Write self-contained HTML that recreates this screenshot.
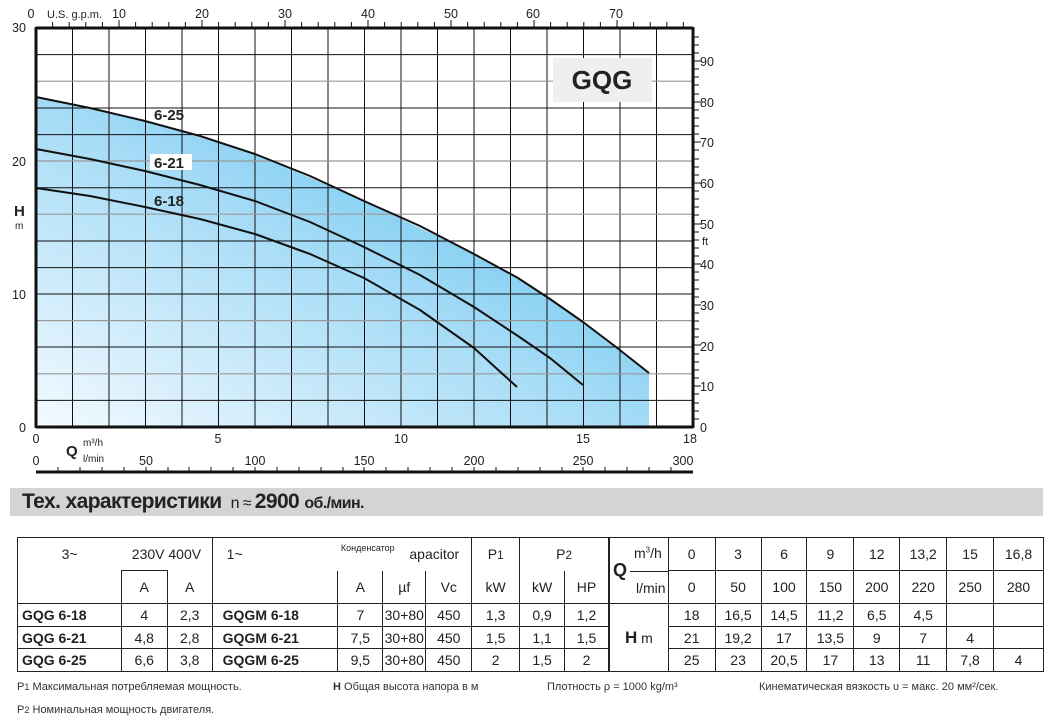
<!DOCTYPE html>
<html><head><meta charset="utf-8"><style>
body{margin:0;background:#fff;width:1055px;height:723px;overflow:hidden;font-family:"Liberation Sans",sans-serif;position:relative}
.bar{position:absolute;left:10px;top:488px;width:1033px;height:28px;background:#d4d4d4}
.bar span{position:absolute;left:12px;top:2px;font-size:21px;color:#222;letter-spacing:-0.6px}
table{position:absolute;border-collapse:collapse;font-size:14px;color:#222}
td{padding:0;text-align:center;vertical-align:middle}
.fn{position:absolute;font-size:11px;color:#333}
</style></head><body>
<svg width="1055" height="485" style="position:absolute;left:0;top:0" font-family="Liberation Sans, sans-serif">
<defs><linearGradient id="g" x1="0" y1="1" x2="1" y2="0">
<stop offset="0" stop-color="#f3faff"/><stop offset="0.5" stop-color="#a4dbf6"/><stop offset="1" stop-color="#3fb6ec"/></linearGradient></defs>
<polygon fill="url(#g)" points="36,97 145,121 255,154 364,201 474,254 518,278 583,322 649,373 649,427 36,427"/>
<g stroke="#111" stroke-width="1">
<line x1="72.5" y1="28" x2="72.5" y2="427"/><line x1="109" y1="28" x2="109" y2="427"/><line x1="145.5" y1="28" x2="145.5" y2="427"/><line x1="182" y1="28" x2="182" y2="427"/><line x1="218.5" y1="28" x2="218.5" y2="427"/><line x1="255" y1="28" x2="255" y2="427"/><line x1="291.5" y1="28" x2="291.5" y2="427"/><line x1="328" y1="28" x2="328" y2="427"/><line x1="364.5" y1="28" x2="364.5" y2="427"/><line x1="401" y1="28" x2="401" y2="427"/><line x1="437.5" y1="28" x2="437.5" y2="427"/><line x1="474" y1="28" x2="474" y2="427"/><line x1="510.5" y1="28" x2="510.5" y2="427"/><line x1="547" y1="28" x2="547" y2="427"/><line x1="583.5" y1="28" x2="583.5" y2="427"/><line x1="620" y1="28" x2="620" y2="427"/><line x1="656.5" y1="28" x2="656.5" y2="427"/>
<line x1="36" y1="54.6" x2="693" y2="54.6"/><line x1="36" y1="108" x2="693" y2="108"/><line x1="36" y1="134.6" x2="693" y2="134.6"/><line x1="36" y1="187.8" x2="693" y2="187.8"/><line x1="36" y1="241" x2="693" y2="241"/><line x1="36" y1="267.6" x2="693" y2="267.6"/><line x1="36" y1="294" x2="693" y2="294"/><line x1="36" y1="347" x2="693" y2="347"/><line x1="36" y1="400.4" x2="693" y2="400.4"/>
</g>
<g stroke="#999" stroke-width="1.2">
<line x1="36" y1="81.2" x2="693" y2="81.2"/><line x1="36" y1="161" x2="693" y2="161"/><line x1="36" y1="214.2" x2="693" y2="214.2"/><line x1="36" y1="320.6" x2="693" y2="320.6"/><line x1="36" y1="373.8" x2="693" y2="373.8"/>
</g>
<rect x="553" y="58" width="99" height="44" fill="#efefef"/>
<text x="602" y="89" font-size="26" font-weight="bold" text-anchor="middle" fill="#222">GQG</text>
<g fill="none" stroke="#111" stroke-width="2" stroke-linejoin="round">
<polyline points="36,97 90,108 145,121 200,136 255,154 310,176 364,201 420,226 474,254 518,278 550,299 583,322 616,347 649,373"/>
<polyline points="36,149 90,159 145,171 200,185 255,201 310,222 364,247 420,275 474,307 518,336 550,358 583,385"/>
<polyline points="36,188 90,196 145,207 200,219 255,234 310,254 364,278 420,310 474,348 517,387"/>
</g>
<g font-size="15" font-weight="bold" fill="#222">
<text x="154" y="120">6-25</text>
<rect x="150" y="154" width="42" height="16" fill="#fff"/><text x="154" y="168">6-21</text>
<text x="154" y="206">6-18</text>
</g>
<g stroke="#111" fill="none">
<line x1="36" y1="28" x2="693" y2="28" stroke-width="3"/>
<line x1="36" y1="427" x2="693" y2="427" stroke-width="3"/>
<line x1="36" y1="27" x2="36" y2="428" stroke-width="3"/>
<line x1="693" y1="27" x2="693" y2="428" stroke-width="3"/>
<line x1="36" y1="472" x2="693" y2="472" stroke-width="3"/>
</g>
<g font-size="12.5" fill="#222">
<text x="31" y="18" text-anchor="middle">0</text><text x="47" y="18" font-size="11">U.S. g.p.m.</text>
<text x="119" y="18" text-anchor="middle">10</text><text x="202" y="18" text-anchor="middle">20</text><text x="285" y="18" text-anchor="middle">30</text><text x="368" y="18" text-anchor="middle">40</text><text x="451" y="18" text-anchor="middle">50</text><text x="533" y="18" text-anchor="middle">60</text><text x="616" y="18" text-anchor="middle">70</text>
<text x="12" y="32">30</text><text x="12" y="166">20</text><text x="12" y="299">10</text><text x="19" y="432">0</text>
<text x="14" y="216" font-size="15" font-weight="bold">H</text><text x="15" y="229" font-size="10">m</text>
<text x="700" y="432">0</text><text x="700" y="391">10</text><text x="700" y="351">20</text><text x="700" y="310">30</text><text x="700" y="269">40</text><text x="700" y="229">50</text><text x="700" y="188">60</text><text x="700" y="147">70</text><text x="700" y="107">80</text><text x="700" y="66">90</text>
<text x="702" y="245" font-size="11">ft</text>
<text x="36" y="443" text-anchor="middle">0</text><text x="218" y="443" text-anchor="middle">5</text><text x="401" y="443" text-anchor="middle">10</text><text x="583" y="443" text-anchor="middle">15</text><text x="690" y="443" text-anchor="middle">18</text>
<text x="66" y="456" font-size="15" font-weight="bold">Q</text><text x="83" y="446" font-size="10">m³/h</text><text x="83" y="462" font-size="10">l/min</text>
<text x="36" y="465" text-anchor="middle">0</text><text x="146" y="465" text-anchor="middle">50</text><text x="255" y="465" text-anchor="middle">100</text><text x="364" y="465" text-anchor="middle">150</text><text x="474" y="465" text-anchor="middle">200</text><text x="583" y="465" text-anchor="middle">250</text><text x="683" y="465" text-anchor="middle">300</text>
</g>
<path stroke="#111" stroke-width="1" d="M52.6 22v6M69.2 22v6M85.8 22v6M102.4 22v6M119 20v8M135.6 22v6M152.2 22v6M168.8 22v6M185.4 22v6M202 20v8M218.6 22v6M235.2 22v6M251.8 22v6M268.4 22v6M285 20v8M301.6 22v6M318.2 22v6M334.8 22v6M351.4 22v6M368 20v8M384.6 22v6M401.2 22v6M417.8 22v6M434.4 22v6M451 20v8M467.6 22v6M484.2 22v6M500.8 22v6M517.4 22v6M534 20v8M550.6 22v6M567.2 22v6M583.8 22v6M600.4 22v6M617 20v8M633.6 22v6M650.2 22v6M666.8 22v6M683.4 22v6
M693 419h6M693 411h6M693 403h6M693 394h6M693 386h8M693 378h6M693 370h6M693 362h6M693 354h6M693 345h8M693 337h6M693 329h6M693 321h6M693 313h6M693 305h8M693 297h6M693 289h6M693 280h6M693 272h6M693 264h8M693 256h6M693 248h6M693 240h6M693 232h6M693 224h8M693 215h6M693 207h6M693 199h6M693 191h6M693 183h8M693 175h6M693 167h6M693 159h6M693 150h6M693 142h8M693 134h6M693 126h6M693 118h6M693 110h6M693 102h8M693 94h6M693 85h6M693 77h6M693 69h6M693 61h8M693 53h6M693 45h6M693 37h6
M58 467v5M80 467v5M102 467v5M124 467v5M146 467v5M168 467v5M189 467v5M211 467v5M233 467v5M255 467v5M277 467v5M299 467v5M321 467v5M343 467v5M364 467v5M386 467v5M408 467v5M430 467v5M452 467v5M474 467v5M496 467v5M518 467v5M540 467v5M562 467v5M583 467v5M605 467v5M627 467v5M649 467v5M671 467v5"/>
</svg>
<div class="bar"><span><b>Тех. характеристики</b> <span style="position:static;font-size:16px">&nbsp;n ≈ </span><b>2900</b> <span style="position:static;font-size:16px;font-weight:bold">об./мин.</span></span></div>

<table style="left:17px;top:537px;width:592px;border:1px solid #222">
<colgroup><col style="width:104px"><col style="width:46px"><col style="width:45px"><col style="width:126px"><col style="width:45px"><col style="width:43px"><col style="width:46px"><col style="width:48px"><col style="width:45px"><col style="width:44px"></colgroup>
<tr style="height:33px"><td>3~</td><td colspan="2" style="border-right:1px solid #222">230V&nbsp;400V</td><td style="text-align:left;padding-left:14px">1~</td><td colspan="3" style="position:relative;text-align:right;padding-right:12px"><span style="position:absolute;left:3px;top:5px;font-size:9px">Конденсатор</span>apacitor</td><td style="border-left:1px solid #222;border-right:1px solid #222">P<small>1</small></td><td colspan="2">P<small>2</small></td></tr>
<tr style="height:33px;border-bottom:1px solid #222"><td></td><td style="border:1px solid #222;border-bottom:0">A</td><td>A</td><td style="border-left:1px solid #222"></td><td style="border-left:1px solid #222">A</td><td style="border-left:1px solid #222">µf</td><td style="border-left:1px solid #222">Vc</td><td style="border-left:1px solid #222;border-right:1px solid #222">kW</td><td style="border-right:1px solid #222">kW</td><td>HP</td></tr>
<tr style="height:23px;border-bottom:1px solid #222"><td style="text-align:left;padding-left:4px;font-weight:bold">GQG 6-18</td><td style="border:1px solid #222">4</td><td style="border:1px solid #222">2,3</td><td style="text-align:left;padding-left:10px;font-weight:bold">GQGM 6-18</td><td style="border:1px solid #222">7</td><td style="border:1px solid #222">30+80</td><td style="border:1px solid #222">450</td><td style="border:1px solid #222">1,3</td><td style="border:1px solid #222">0,9</td><td>1,2</td></tr>
<tr style="height:22px;border-bottom:1px solid #222"><td style="text-align:left;padding-left:4px;font-weight:bold">GQG 6-21</td><td style="border:1px solid #222">4,8</td><td style="border:1px solid #222">2,8</td><td style="text-align:left;padding-left:10px;font-weight:bold">GQGM 6-21</td><td style="border:1px solid #222">7,5</td><td style="border:1px solid #222">30+80</td><td style="border:1px solid #222">450</td><td style="border:1px solid #222">1,5</td><td style="border:1px solid #222">1,1</td><td>1,5</td></tr>
<tr style="height:23px"><td style="text-align:left;padding-left:4px;font-weight:bold">GQG 6-25</td><td style="border:1px solid #222">6,6</td><td style="border:1px solid #222">3,8</td><td style="text-align:left;padding-left:10px;font-weight:bold">GQGM 6-25</td><td style="border:1px solid #222">9,5</td><td style="border:1px solid #222">30+80</td><td style="border:1px solid #222">450</td><td style="border:1px solid #222">2</td><td style="border:1px solid #222">1,5</td><td>2</td></tr>
</table>

<table style="left:609px;top:537px;width:435px;border:1px solid #222">
<colgroup><col style="width:59px"><col style="width:47px"><col style="width:46px"><col style="width:46px"><col style="width:47px"><col style="width:46px"><col style="width:47px"><col style="width:47px"><col style="width:50px"></colgroup>
<tr style="height:33px"><td rowspan="2" style="position:relative;border-right:1px solid #222"><b style="position:absolute;left:3px;top:22px;font-size:18px">Q</b><span style="position:absolute;left:24px;top:7px">m<sup style="font-size:8px">3</sup>/h</span><span style="position:absolute;left:20px;top:33px;width:38px;border-top:1px solid #222"></span><span style="position:absolute;left:26px;top:42px">l/min</span></td><td style="border:1px solid #222">0</td><td style="border:1px solid #222">3</td><td style="border:1px solid #222">6</td><td style="border:1px solid #222">9</td><td style="border:1px solid #222">12</td><td style="border:1px solid #222">13,2</td><td style="border:1px solid #222">15</td><td style="border:1px solid #222">16,8</td></tr>
<tr style="height:33px"><td style="border:1px solid #222">0</td><td style="border:1px solid #222">50</td><td style="border:1px solid #222">100</td><td style="border:1px solid #222">150</td><td style="border:1px solid #222">200</td><td style="border:1px solid #222">220</td><td style="border:1px solid #222">250</td><td style="border:1px solid #222">280</td></tr>
<tr style="height:23px"><td rowspan="3" style="border:1px solid #222"><b style="font-size:17px">H</b> m</td><td style="border:1px solid #222">18</td><td style="border:1px solid #222">16,5</td><td style="border:1px solid #222">14,5</td><td style="border:1px solid #222">11,2</td><td style="border:1px solid #222">6,5</td><td style="border:1px solid #222">4,5</td><td style="border:1px solid #222"></td><td style="border:1px solid #222"></td></tr>
<tr style="height:22px"><td style="border:1px solid #222">21</td><td style="border:1px solid #222">19,2</td><td style="border:1px solid #222">17</td><td style="border:1px solid #222">13,5</td><td style="border:1px solid #222">9</td><td style="border:1px solid #222">7</td><td style="border:1px solid #222">4</td><td style="border:1px solid #222"></td></tr>
<tr style="height:23px"><td style="border:1px solid #222">25</td><td style="border:1px solid #222">23</td><td style="border:1px solid #222">20,5</td><td style="border:1px solid #222">17</td><td style="border:1px solid #222">13</td><td style="border:1px solid #222">11</td><td style="border:1px solid #222">7,8</td><td style="border:1px solid #222">4</td></tr>
</table>

<div class="fn" style="left:17px;top:681px">P<small>1</small> Максимальная потребляемая мощность.</div>
<div class="fn" style="left:333px;top:681px"><b>H</b> Общая высота напора в м</div>
<div class="fn" style="left:547px;top:681px">Плотность ρ = 1000 kg/m³</div>
<div class="fn" style="left:759px;top:681px">Кинематическая вязкость υ = макс. 20 мм²/сек.</div>
<div class="fn" style="left:17px;top:704px">P<small>2</small> Номинальная мощность двигателя.</div>
</body></html>
